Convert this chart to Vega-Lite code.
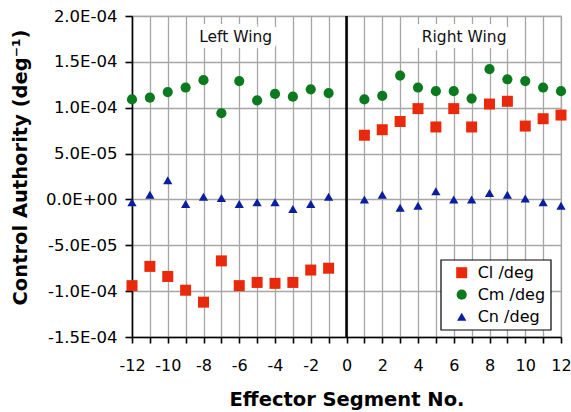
{
  "$schema": "https://vega.github.io/schema/vega-lite/v6.json",
  "width": 429,
  "height": 321,
  "autosize": "none",
  "padding": {"left": 132, "top": 16, "right": 10, "bottom": 75},
  "background": "white",
  "config": {
    "font": "DejaVu Sans",
    "view": {"stroke": "#a6a6a6", "strokeWidth": 1.2},
    "axis": {"labelColor": "black", "titleColor": "black", "labelFont": "DejaVu Sans", "titleFont": "DejaVu Sans", "labelOverlap": false},
    "legend": {
      "orient": "none", "legendX": 308.7, "legendY": 243.7,
      "padding": 5, "symbolOffset": 8, "labelOffset": 8, "rowPadding": 6,
      "labelFontSize": 16, "labelFont": "DejaVu Sans", "labelColor": "black",
      "fillColor": "white", "strokeColor": "black", "strokeWidth": 1.2,
      "symbolStrokeWidth": 0, "cornerRadius": 0
    }
  },
  "datasets": {
    "coeffs": [
      {"seg": -12, "series": "Cl /deg", "value": -9.4e-5},
      {"seg": -11, "series": "Cl /deg", "value": -7.3e-5},
      {"seg": -10, "series": "Cl /deg", "value": -8.4e-5},
      {"seg": -9, "series": "Cl /deg", "value": -9.9e-5},
      {"seg": -8, "series": "Cl /deg", "value": -1.12e-4},
      {"seg": -7, "series": "Cl /deg", "value": -6.7e-5},
      {"seg": -6, "series": "Cl /deg", "value": -9.4e-5},
      {"seg": -5, "series": "Cl /deg", "value": -9.05e-5},
      {"seg": -4, "series": "Cl /deg", "value": -9.15e-5},
      {"seg": -3, "series": "Cl /deg", "value": -9.05e-5},
      {"seg": -2, "series": "Cl /deg", "value": -7.7e-5},
      {"seg": -1, "series": "Cl /deg", "value": -7.5e-5},
      {"seg": 1, "series": "Cl /deg", "value": 7.0e-5},
      {"seg": 2, "series": "Cl /deg", "value": 7.6e-5},
      {"seg": 3, "series": "Cl /deg", "value": 8.5e-5},
      {"seg": 4, "series": "Cl /deg", "value": 9.9e-5},
      {"seg": 5, "series": "Cl /deg", "value": 7.9e-5},
      {"seg": 6, "series": "Cl /deg", "value": 9.9e-5},
      {"seg": 7, "series": "Cl /deg", "value": 7.9e-5},
      {"seg": 8, "series": "Cl /deg", "value": 1.04e-4},
      {"seg": 9, "series": "Cl /deg", "value": 1.07e-4},
      {"seg": 10, "series": "Cl /deg", "value": 8.0e-5},
      {"seg": 11, "series": "Cl /deg", "value": 8.8e-5},
      {"seg": 12, "series": "Cl /deg", "value": 9.2e-5},
      {"seg": -12, "series": "Cm /deg", "value": 1.09e-4},
      {"seg": -11, "series": "Cm /deg", "value": 1.11e-4},
      {"seg": -10, "series": "Cm /deg", "value": 1.17e-4},
      {"seg": -9, "series": "Cm /deg", "value": 1.22e-4},
      {"seg": -8, "series": "Cm /deg", "value": 1.30e-4},
      {"seg": -7, "series": "Cm /deg", "value": 9.4e-5},
      {"seg": -6, "series": "Cm /deg", "value": 1.29e-4},
      {"seg": -5, "series": "Cm /deg", "value": 1.08e-4},
      {"seg": -4, "series": "Cm /deg", "value": 1.15e-4},
      {"seg": -3, "series": "Cm /deg", "value": 1.12e-4},
      {"seg": -2, "series": "Cm /deg", "value": 1.20e-4},
      {"seg": -1, "series": "Cm /deg", "value": 1.16e-4},
      {"seg": 1, "series": "Cm /deg", "value": 1.09e-4},
      {"seg": 2, "series": "Cm /deg", "value": 1.13e-4},
      {"seg": 3, "series": "Cm /deg", "value": 1.35e-4},
      {"seg": 4, "series": "Cm /deg", "value": 1.22e-4},
      {"seg": 5, "series": "Cm /deg", "value": 1.18e-4},
      {"seg": 6, "series": "Cm /deg", "value": 1.18e-4},
      {"seg": 7, "series": "Cm /deg", "value": 1.10e-4},
      {"seg": 8, "series": "Cm /deg", "value": 1.42e-4},
      {"seg": 9, "series": "Cm /deg", "value": 1.31e-4},
      {"seg": 10, "series": "Cm /deg", "value": 1.29e-4},
      {"seg": 11, "series": "Cm /deg", "value": 1.22e-4},
      {"seg": 12, "series": "Cm /deg", "value": 1.18e-4},
      {"seg": -12, "series": "Cn /deg", "value": -3e-6},
      {"seg": -11, "series": "Cn /deg", "value": 5e-6},
      {"seg": -10, "series": "Cn /deg", "value": 2.1e-5},
      {"seg": -9, "series": "Cn /deg", "value": -5e-6},
      {"seg": -8, "series": "Cn /deg", "value": 3e-6},
      {"seg": -7, "series": "Cn /deg", "value": 1.5e-6},
      {"seg": -6, "series": "Cn /deg", "value": -5e-6},
      {"seg": -5, "series": "Cn /deg", "value": -3e-6},
      {"seg": -4, "series": "Cn /deg", "value": -3e-6},
      {"seg": -3, "series": "Cn /deg", "value": -1.05e-5},
      {"seg": -2, "series": "Cn /deg", "value": -5e-6},
      {"seg": -1, "series": "Cn /deg", "value": 3e-6},
      {"seg": 1, "series": "Cn /deg", "value": 0},
      {"seg": 2, "series": "Cn /deg", "value": 5e-6},
      {"seg": 3, "series": "Cn /deg", "value": -9e-6},
      {"seg": 4, "series": "Cn /deg", "value": -7e-6},
      {"seg": 5, "series": "Cn /deg", "value": 9e-6},
      {"seg": 6, "series": "Cn /deg", "value": 0},
      {"seg": 7, "series": "Cn /deg", "value": 0},
      {"seg": 8, "series": "Cn /deg", "value": 7e-6},
      {"seg": 9, "series": "Cn /deg", "value": 5e-6},
      {"seg": 10, "series": "Cn /deg", "value": 1e-6},
      {"seg": 11, "series": "Cn /deg", "value": -3e-6},
      {"seg": 12, "series": "Cn /deg", "value": -7e-6}
    ],
    "labels": [
      {"label": "Left Wing", "seg": -6.2, "value": 1.77e-4},
      {"label": "Right Wing", "seg": 6.58, "value": 1.77e-4}
    ]
  },
  "resolve": {"axis": {"x": "independent", "y": "independent"}},
  "layer": [
    {
      "data": {"name": "coeffs"},
      "mark": {"type": "point", "filled": true, "opacity": 1, "strokeWidth": 0},
      "encoding": {
        "x": {
          "field": "seg", "type": "quantitative",
          "scale": {"domain": [-12, 12], "nice": false, "zero": false},
          "axis": {
            "orient": "bottom",
            "title": "Effector Segment No.",
            "values": [-12, -11, -10, -9, -8, -7, -6, -5, -4, -3, -2, -1, 0, 1, 2, 3, 4, 5, 6, 7, 8, 9, 10, 11, 12],
            "labelExpr": "abs(datum.value) % 2 == 0 ? (datum.value < 0 ? '-' : '') + abs(datum.value) : ''",
            "labelOverlap": false, "labelFlush": false, "labelBound": false,
            "labelFontSize": 16, "labelPadding": 14,
            "titleFontSize": 19.5, "titleFontWeight": "bold", "titlePadding": 17,
            "grid": true, "gridColor": "#a6a6a6", "gridWidth": 1.3,
            "domainColor": "black", "domainWidth": 1.6,
            "tickColor": "black", "tickWidth": 1.6, "tickSize": 6
          }
        },
        "y": {
          "field": "value", "type": "quantitative",
          "scale": {"domain": [-1.5e-4, 2e-4], "nice": false, "zero": false},
          "axis": {
            "orient": "left",
            "title": "Control Authority (deg⁻¹)",
            "values": [-1.5e-4, -1e-4, -5e-5, 0, 5e-5, 1e-4, 1.5e-4, 2e-4],
            "labelExpr": "datum.value == 0 ? '0.0E+00' : (datum.value < 0 ? '-' : '') + format(abs(datum.value) / pow(10, floor(log(abs(datum.value)) / LN10 + 1e-9)), '.1f') + 'E-0' + (-floor(log(abs(datum.value)) / LN10 + 1e-9))",
            "labelFlush": false, "labelBound": false, "labelOverlap": false,
            "labelFontSize": 16.5, "labelPadding": 8,
            "titleFontSize": 19.5, "titleFontWeight": "bold",
            "titleAngle": -90, "titleX": -112, "titleY": 151, "titleAlign": "center", "titleBaseline": "middle",
            "grid": true, "gridColor": "#a6a6a6", "gridWidth": 1.3,
            "domainColor": "black", "domainWidth": 1.6,
            "tickColor": "black", "tickWidth": 1.6, "tickSize": 7
          }
        },
        "color": {
          "field": "series", "type": "nominal",
          "scale": {"domain": ["Cl /deg", "Cm /deg", "Cn /deg"], "range": ["#E8290B", "#0B7A1F", "#0A1E9E"]},
          "legend": {"title": null}
        },
        "shape": {
          "field": "series", "type": "nominal",
          "scale": {"domain": ["Cl /deg", "Cm /deg", "Cn /deg"], "range": ["square", "circle", "triangle-up"]},
          "legend": {"title": null}
        },
        "size": {
          "field": "series", "type": "nominal",
          "scale": {"domain": ["Cl /deg", "Cm /deg", "Cn /deg"], "range": [121, 86, 121]},
          "legend": {"title": null}
        }
      }
    },
    {
      "data": {"values": [{"zero": 0}]},
      "mark": {"type": "rule", "color": "black", "strokeWidth": 2.5},
      "encoding": {
        "x": {"field": "zero", "type": "quantitative", "axis": null}
      }
    },
    {
      "data": {"name": "labels"},
      "mark": {"type": "text", "fontSize": 15.5, "font": "DejaVu Sans", "stroke": "white", "strokeWidth": 12, "strokeJoin": "miter", "color": "white", "align": "center", "baseline": "middle"},
      "encoding": {
        "x": {"field": "seg", "type": "quantitative", "axis": null},
        "y": {"field": "value", "type": "quantitative", "axis": null},
        "text": {"field": "label"}
      }
    },
    {
      "data": {"name": "labels"},
      "mark": {"type": "text", "fontSize": 15.5, "font": "DejaVu Sans", "color": "#111111", "align": "center", "baseline": "middle"},
      "encoding": {
        "x": {"field": "seg", "type": "quantitative", "axis": null},
        "y": {"field": "value", "type": "quantitative", "axis": null},
        "text": {"field": "label"}
      }
    }
  ]
}
